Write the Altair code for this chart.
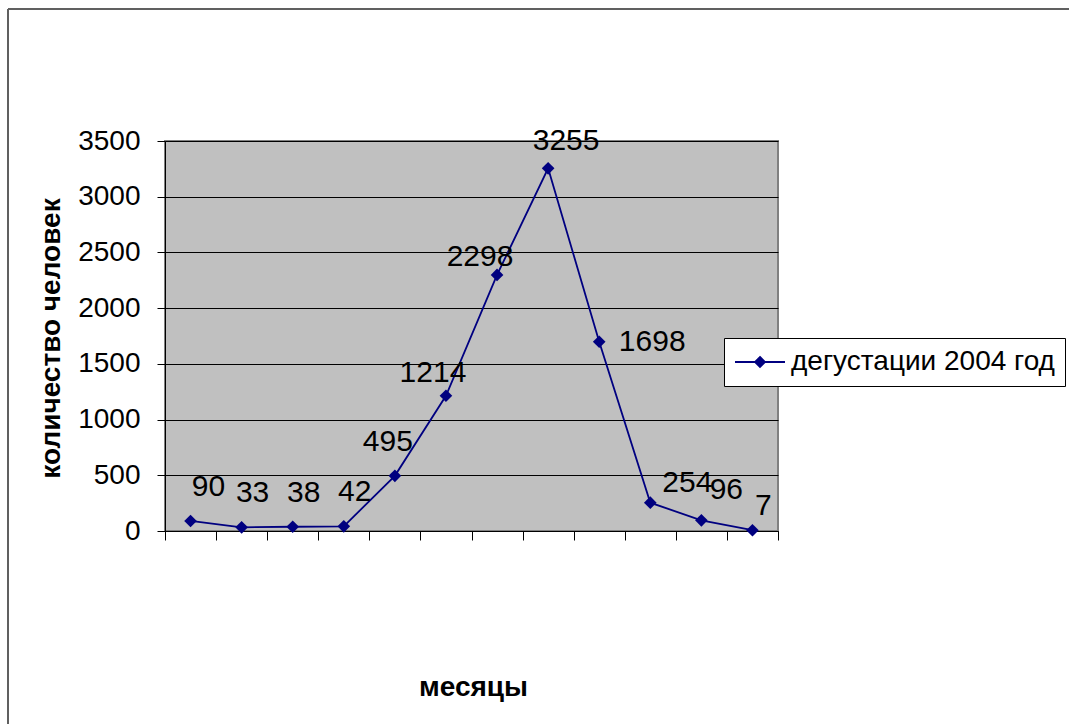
import altair as alt
import pandas as pd

# ---- data ----
months = [1, 2, 3, 4, 5, 6, 7, 8, 9, 10, 11, 12]
visitors = [90, 33, 38, 42, 495, 1214, 2298, 3255, 1698, 254, 96, 7]
series_name = "дегустации 2004 год"
y_ticks = [0, 500, 1000, 1500, 2000, 2500, 3000, 3500]
x_ticks = [0.5, 1.5, 2.5, 3.5, 4.5, 5.5, 6.5, 7.5, 8.5, 9.5, 10.5, 11.5, 12.5]

df = pd.DataFrame({"month": months, "count": visitors, "series": series_name})

FONT = "Liberation Sans"
NAVY = "#000080"

x_enc = alt.X(
    "month:Q",
    scale=alt.Scale(domain=[0.5, 12.5], nice=False, zero=False),
    axis=alt.Axis(
        values=x_ticks, labels=False, ticks=True, tickSize=9, tickColor="black",
        domainColor="black", grid=False,
        title="месяцы", titleFont=FONT, titleFontSize=28, titleFontWeight="bold",
        titleColor="black", titleX=308, titleY=164, titleBaseline="alphabetic",
        titleAlign="center",
    ),
)
y_enc = alt.Y(
    "count:Q",
    scale=alt.Scale(domain=[0, 3500], nice=False),
    axis=alt.Axis(
        values=y_ticks, format="d", tickSize=8, tickColor="black", labelPadding=17,
        labelFont=FONT, labelFontSize=28, labelColor="black",
        grid=True, gridColor="black", gridWidth=1, domainColor="black",
        title="количество человек", titleFont=FONT, titleFontSize=28,
        titleFontWeight="bold", titleColor="black", titleAngle=-90,
        titleX=-106, titleY=197, titleAlign="center", titleBaseline="alphabetic",
    ),
)

color_enc = alt.Color(
    "series:N",
    scale=alt.Scale(range=[NAVY]),
    legend=alt.Legend(
        title=None, orient="none", legendX=559, legendY=197,
        strokeColor="black", fillColor="white", padding=10,
        symbolType="M-2,0L2,0M0,-0.4L0.4,0L0,0.4L-0.4,0Z",
        symbolSize=625, symbolStrokeWidth=1.8,
        symbolFillColor=NAVY, symbolStrokeColor=NAVY, symbolOffset=12,
        labelFont=FONT, labelFontSize=28, labelColor="black",
        labelOffset=17, labelLimit=600,
    ),
)

base = alt.Chart(df)

line = base.mark_line(color=NAVY, strokeWidth=1.8).encode(x=x_enc, y=y_enc, color=color_enc)
points = base.mark_point(shape="diamond", filled=True, size=160, color=NAVY, opacity=1).encode(
    x="month:Q", y="count:Q"
)

# label placement (style): month -> (dx, dy)
label_style = {
    1: (18, -34), 2: (11, -34), 3: (11, -34), 4: (11, -34),
    5: (-7, -34), 6: (-13, -23), 7: (-17, -18), 8: (18, -27),
    9: (53, 0), 10: (37, -20), 11: (25, -30), 12: (11, -24),
}
label_layers = []
for m, (ddx, ddy) in label_style.items():
    label_layers.append(
        base.transform_filter(alt.datum.month == m)
        .mark_text(font=FONT, fontSize=30, color="black", dx=ddx, dy=ddy,
                   align="center", baseline="middle")
        .encode(x="month:Q", y="count:Q", text="count:Q")
    )

frame_df = pd.DataFrame({"k": [0]})
frame_top = alt.Chart(frame_df).mark_rule(color="#606060", strokeWidth=2).encode(
    x=alt.value(-157), x2=alt.value(910), y=alt.value(-132)
)
frame_left = alt.Chart(frame_df).mark_rule(color="#606060", strokeWidth=2).encode(
    x=alt.value(-157), y=alt.value(-132), y2=alt.value(590)
)

chart = (
    alt.layer(line, points, *label_layers, frame_top, frame_left)
    .properties(
        width=613, height=390,
        autosize=alt.AutoSizeParams(type="none"),
        padding={"left": 165, "top": 141, "right": 291, "bottom": 193},
        background="white",
    )
    .configure_view(fill="#C0C0C0", stroke="#808080", strokeWidth=2)
)

chart.save("out.html", embed_options={"renderer": "svg", "actions": False})
